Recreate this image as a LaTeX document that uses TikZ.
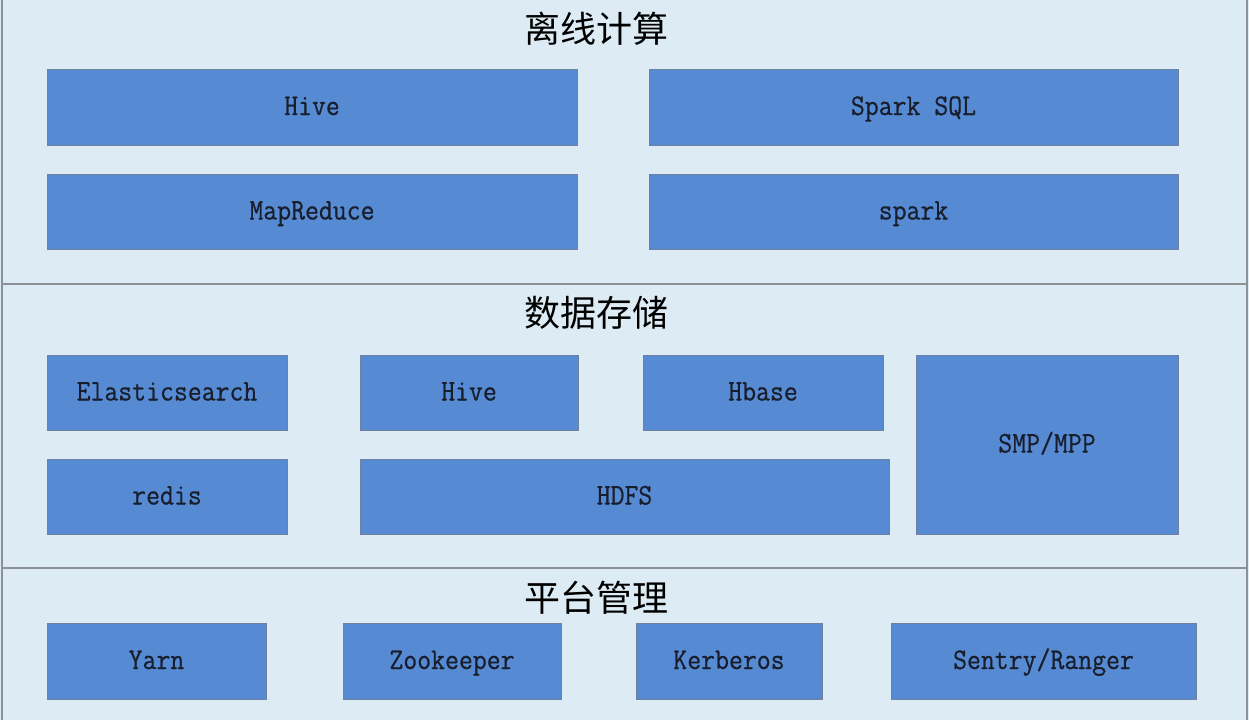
\documentclass[tikz,border=0pt]{standalone}
\usepackage{fontspec}
\newfontfamily\cjkfont{Noto Sans CJK SC}
\newfontfamily\boxfont[FakeStretch=0.9,FakeBold=0.6]{Latin Modern Mono}
\definecolor{bgblue}{RGB}{221,236,244}
\definecolor{boxblue}{RGB}{86,139,212}
\definecolor{boxline}{RGB}{110,130,160}
\definecolor{sepline}{RGB}{140,145,150}
\definecolor{txt}{RGB}{25,30,45}
\tikzset{
  box/.style={draw=boxline, line width=0.8pt, fill=boxblue, inner sep=0pt, outer sep=0pt,
    text=txt, text height=18pt, text depth=2pt, font=\boxfont\fontsize{30}{32}\selectfont},
  sectitle/.style={inner sep=0pt, text=black, font=\cjkfont\fontsize{36}{40}\selectfont},
  sep/.style={draw=sepline, line width=1.2pt}
}
\begin{document}
\begin{tikzpicture}[x=1pt,y=-1pt]
\useasboundingbox (0,0) rectangle (1249,720);
\fill[bgblue] (0,0) rectangle (1249,720);
% frame and separators
\coordinate (tl) at (2,0);
\coordinate (bl) at (2,720);
\coordinate (tr) at (1247,0);
\coordinate (br) at (1247,720);
\coordinate (s1l) at (2,284);
\coordinate (s1r) at (1247,284);
\coordinate (s2l) at (2,568);
\coordinate (s2r) at (1247,568);
\draw[sep] (tl) -- (bl);
\draw[sep] (tr) -- (br);
\draw[sep] (s1l) -- (s1r);
\draw[sep] (s2l) -- (s2r);
% titles
\node[sectitle] (t1) at (596,29) {离线计算};
\node[sectitle] (t2) at (596,313) {数据存储};
\node[sectitle] (t3) at (596,598) {平台管理};
% offline computing
\node[box, minimum width=530pt, minimum height=76pt] (hive1) at (312,107) {Hive};
\node[box, minimum width=529pt, minimum height=76pt] (sparksql) at (913.5,107) {Spark SQL};
\node[box, minimum width=530pt, minimum height=75pt] (mapreduce) at (312,211.5) {MapReduce};
\node[box, minimum width=529pt, minimum height=75pt] (spark) at (913.5,211.5) {spark};
% storage
\node[box, minimum width=240pt, minimum height=75pt] (es) at (167,392.5) {Elasticsearch};
\node[box, minimum width=218pt, minimum height=75pt] (hive2) at (469,392.5) {Hive};
\node[box, minimum width=240pt, minimum height=75pt] (hbase) at (763,392.5) {Hbase};
\node[box, minimum width=262pt, minimum height=179pt] (smp) at (1047,444.5) {SMP/MPP};
\node[box, minimum width=240pt, minimum height=75pt] (redis) at (167,496.5) {redis};
\node[box, minimum width=529pt, minimum height=75pt] (hdfs) at (624.5,496.5) {HDFS};
% platform management
\node[box, minimum width=219pt, minimum height=76pt] (yarn) at (156.5,661) {Yarn};
\node[box, minimum width=218pt, minimum height=76pt] (zk) at (452,661) {Zookeeper};
\node[box, minimum width=186pt, minimum height=76pt] (krb) at (729,661) {Kerberos};
\node[box, minimum width=305pt, minimum height=76pt] (sentry) at (1043.5,661) {Sentry/Ranger};
\end{tikzpicture}
\end{document}
